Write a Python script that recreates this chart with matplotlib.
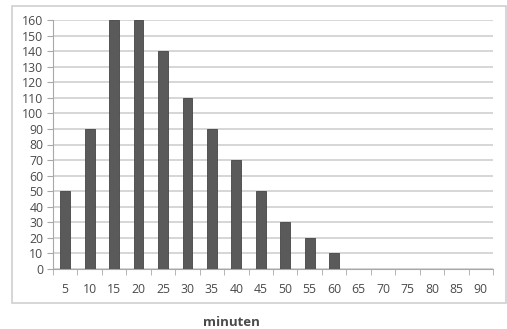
import numpy as np
import matplotlib.pyplot as plt
from matplotlib.patches import Rectangle

###############################################################################
###                               DATA
###############################################################################
minutes = [5, 10, 15, 20, 25, 30, 35, 40, 45, 50, 55, 60, 65, 70, 75, 80, 85, 90]
counts = [50, 90, 160, 160, 140, 110, 90, 70, 50, 30, 20, 10, 0, 0, 0, 0, 0, 0]
y_ticks = list(range(0, 161, 10))
x_label = 'minuten'

###############################################################################
###                               PLOT
###############################################################################
plt.rcParams['font.family'] = ['Open Sans', 'DejaVu Sans']
W, H = 507, 329
fig = plt.figure(figsize=(W / 100, H / 100), dpi=100)
fig.patch.set_facecolor('white')

# chart outer box
fig.add_artist(Rectangle((12 / W, 1 - 303 / H), (506 - 12) / W, (303 - 6) / H,
                         transform=fig.transFigure, fill=False,
                         edgecolor='#d0d0d0', linewidth=1.2))

ax = fig.add_axes([53 / W, 1 - 269 / H, (493 - 53) / W, (269 - 20) / H])
x = np.arange(len(minutes))
ax.bar(x, counts, width=0.4, color='#5a5a5a', edgecolor='#444444', linewidth=0.6, zorder=3)

ax.set_xlim(-0.5, len(minutes) - 0.5)
ax.set_ylim(0, 160)
ax.set_yticks(y_ticks)
ax.yaxis.grid(True, color='#cfcfcf', linewidth=1.2, zorder=0)
ax.set_axisbelow(True)

for s in ['top', 'right']:
    ax.spines[s].set_visible(False)
ax.spines['left'].set_color('#a8a8a8')
ax.spines['bottom'].set_color('#a8a8a8')

ax.set_xticks(x)
ax.set_xticklabels([str(m) for m in minutes])
ax.set_xticks(np.arange(-0.5, len(minutes), 1), minor=True)
ax.tick_params(axis='x', which='major', length=0, pad=10, labelsize=8.8, labelcolor='#4a4a4a')
ax.tick_params(axis='x', which='minor', length=4, color='#a8a8a8', direction='out')
ax.tick_params(axis='y', length=4, color='#a8a8a8', labelsize=8.8, labelcolor='#4a4a4a', pad=3)

fig.text(231 / W, 1 - 322 / H, x_label, ha='center', va='center',
         fontsize=9.5, fontweight='bold', color='#4a4a4a')

plt.savefig('out.png', dpi=100)
